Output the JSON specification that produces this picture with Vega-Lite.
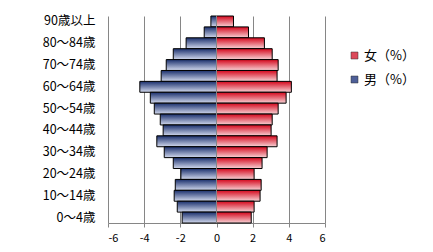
{
  "$schema": "https://vega.github.io/schema/vega-lite/v6.json",
  "width": 217,
  "height": 207,
  "autosize": {"type": "none"},
  "padding": {"left": 108, "top": 16, "right": 108, "bottom": 29},
  "background": "white",
  "config": {
    "view": {"stroke": null},
    "font": "Noto Sans CJK JP"
  },
  "data": {
    "values": [
      {"age": "90歳以上", "sex": "男（%）", "value": -0.31},
      {"age": "85～89歳", "sex": "男（%）", "value": -0.68},
      {"age": "80～84歳", "sex": "男（%）", "value": -1.68},
      {"age": "75～79歳", "sex": "男（%）", "value": -2.39},
      {"age": "70～74歳", "sex": "男（%）", "value": -2.78},
      {"age": "65～69歳", "sex": "男（%）", "value": -3.06},
      {"age": "60～64歳", "sex": "男（%）", "value": -4.24},
      {"age": "55～59歳", "sex": "男（%）", "value": -3.66},
      {"age": "50～54歳", "sex": "男（%）", "value": -3.44},
      {"age": "45～49歳", "sex": "男（%）", "value": -3.11},
      {"age": "40～44歳", "sex": "男（%）", "value": -2.95},
      {"age": "35～39歳", "sex": "男（%）", "value": -3.30},
      {"age": "30～34歳", "sex": "男（%）", "value": -2.89},
      {"age": "25～29歳", "sex": "男（%）", "value": -2.39},
      {"age": "20～24歳", "sex": "男（%）", "value": -1.97},
      {"age": "15～19歳", "sex": "男（%）", "value": -2.28},
      {"age": "10～14歳", "sex": "男（%）", "value": -2.34},
      {"age": "5～9歳", "sex": "男（%）", "value": -2.17},
      {"age": "0～4歳", "sex": "男（%）", "value": -1.90},
      {"age": "90歳以上", "sex": "女（%）", "value": 0.94},
      {"age": "85～89歳", "sex": "女（%）", "value": 1.77},
      {"age": "80～84歳", "sex": "女（%）", "value": 2.65},
      {"age": "75～79歳", "sex": "女（%）", "value": 3.08},
      {"age": "70～74歳", "sex": "女（%）", "value": 3.41},
      {"age": "65～69歳", "sex": "女（%）", "value": 3.35},
      {"age": "60～64歳", "sex": "女（%）", "value": 4.14},
      {"age": "55～59歳", "sex": "女（%）", "value": 3.85},
      {"age": "50～54歳", "sex": "女（%）", "value": 3.41},
      {"age": "45～49歳", "sex": "女（%）", "value": 3.08},
      {"age": "40～44歳", "sex": "女（%）", "value": 3.02},
      {"age": "35～39歳", "sex": "女（%）", "value": 3.35},
      {"age": "30～34歳", "sex": "女（%）", "value": 2.80},
      {"age": "25～29歳", "sex": "女（%）", "value": 2.52},
      {"age": "20～24歳", "sex": "女（%）", "value": 2.08},
      {"age": "15～19歳", "sex": "女（%）", "value": 2.47},
      {"age": "10～14歳", "sex": "女（%）", "value": 2.41},
      {"age": "5～9歳", "sex": "女（%）", "value": 2.08},
      {"age": "0～4歳", "sex": "女（%）", "value": 1.92}
    ]
  },
  "encoding": {
    "y": {
      "field": "age",
      "type": "nominal",
      "sort": ["90歳以上", "85～89歳", "80～84歳", "75～79歳", "70～74歳", "65～69歳", "60～64歳", "55～59歳", "50～54歳", "45～49歳", "40～44歳", "35～39歳", "30～34歳", "25～29歳", "20～24歳", "15～19歳", "10～14歳", "5～9歳", "0～4歳"],
      "scale": {"paddingInner": 0, "paddingOuter": 0},
      "axis": {
        "title": null,
        "domain": false,
        "ticks": false,
        "labelPadding": 13,
        "labelFontSize": 12.5,
        "labelColor": "#000000",
        "values": ["90歳以上", "80～84歳", "70～74歳", "60～64歳", "50～54歳", "40～44歳", "30～34歳", "20～24歳", "10～14歳", "0～4歳"]
      }
    },
    "x": {
      "field": "value",
      "type": "quantitative",
      "scale": {"domain": [-6, 6], "nice": false},
      "axis": {
        "title": null,
        "values": [-6, -4, -2, 0, 2, 4, 6],
        "labelExpr": "'' + datum.value",
        "grid": true,
        "gridColor": "#868686",
        "gridWidth": 1,
        "domainColor": "#868686",
        "tickColor": "#868686",
        "tickSize": 4,
        "labelPadding": 5,
        "labelFontSize": 11,
        "labelColor": "#000000"
      }
    }
  },
  "layer": [
    {
      "transform": [{"filter": "datum.sex === '男（%）'"}],
      "mark": {
        "type": "bar", "stroke": "#000000", "strokeWidth": 1,
        "fill": {"gradient": "linear", "x1": 0, "y1": 0, "x2": 0, "y2": 1, "stops": [{"offset": 0, "color": "#1a2f6c"}, {"offset": 1, "color": "#d3daee"}]}
      }
    },
    {
      "transform": [{"filter": "datum.sex === '女（%）'"}],
      "mark": {
        "type": "bar", "stroke": "#000000", "strokeWidth": 1,
        "fill": {"gradient": "linear", "x1": 0, "y1": 0, "x2": 0, "y2": 1, "stops": [{"offset": 0, "color": "#d4071c"}, {"offset": 1, "color": "#f8d3d6"}]}
      }
    },
    {
      "mark": {"type": "point", "shape": "square", "filled": true, "opacity": 0, "size": 1},
      "encoding": {
        "fill": {
          "field": "sex",
          "type": "nominal",
          "scale": {"domain": ["女（%）", "男（%）"], "range": ["#dc4a5a", "#4e5f98"]},
          "legend": {
            "title": null,
            "orient": "none",
            "legendX": 240,
            "legendY": 33,
            "symbolType": "square",
            "symbolSize": 49,
            "symbolOpacity": 1,
            "symbolStrokeColor": "#333333",
            "symbolStrokeWidth": 0.5,
            "labelFontSize": 13,
            "labelColor": "#000000",
            "labelOffset": 3,
            "rowPadding": 10
          }
        }
      }
    },
    {
      "mark": {"type": "rule", "color": "#868686", "strokeWidth": 1},
      "encoding": {"x": {"datum": 0}, "y": null}
    }
  ]
}
